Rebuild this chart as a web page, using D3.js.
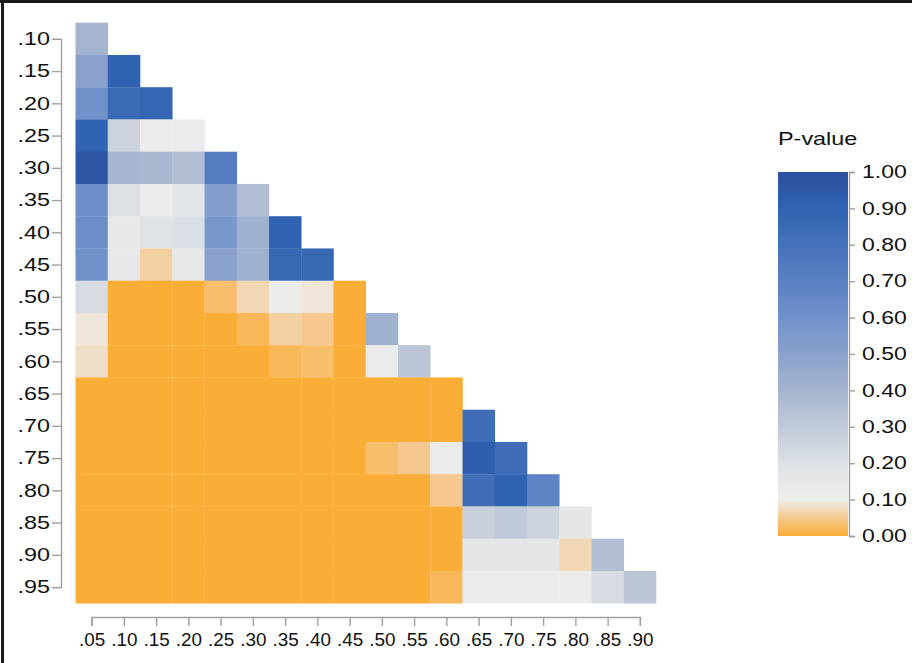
<!DOCTYPE html>
<html>
<head>
<meta charset="utf-8">
<script src="https://cdn.jsdelivr.net/npm/d3@7"></script>
<style>
  body { margin: 0; background: #fff; }
  svg { display: block; font-family: "Liberation Sans", Arial, sans-serif; }
</style>
</head>
<body>
<div id="chart"></div>
<script>
// row / column labels (proportions)
const rowLabels = [".10", ".15", ".20", ".25", ".30", ".35", ".40", ".45", ".50",
                   ".55", ".60", ".65", ".70", ".75", ".80", ".85", ".90", ".95"];
const colLabels = [".05", ".10", ".15", ".20", ".25", ".30", ".35", ".40", ".45",
                   ".50", ".55", ".60", ".65", ".70", ".75", ".80", ".85", ".90"];

// p-values, lower triangle, one array per row
const pValues = [
  [0.40],
  [0.50, 0.90],
  [0.60, 0.85, 0.88],
  [0.90, 0.26, 0.12, 0.12],
  [0.97, 0.40, 0.38, 0.36, 0.72],
  [0.62, 0.20, 0.12, 0.17, 0.52, 0.36],
  [0.62, 0.15, 0.18, 0.21, 0.57, 0.42, 0.90],
  [0.60, 0.15, 0.06, 0.15, 0.50, 0.42, 0.87, 0.87],
  [0.22, 0.00, 0.00, 0.00, 0.03, 0.07, 0.11, 0.09, 0.00],
  [0.09, 0.00, 0.00, 0.00, 0.00, 0.02, 0.06, 0.05, 0.00, 0.42],
  [0.08, 0.00, 0.00, 0.00, 0.00, 0.00, 0.02, 0.03, 0.00, 0.12, 0.32],
  [0.00, 0.00, 0.00, 0.00, 0.00, 0.00, 0.00, 0.00, 0.00, 0.00, 0.00, 0.00],
  [0.00, 0.00, 0.00, 0.00, 0.00, 0.00, 0.00, 0.00, 0.00, 0.00, 0.00, 0.00, 0.83],
  [0.00, 0.00, 0.00, 0.00, 0.00, 0.00, 0.00, 0.00, 0.00, 0.03, 0.05, 0.12, 0.93, 0.83],
  [0.00, 0.00, 0.00, 0.00, 0.00, 0.00, 0.00, 0.00, 0.00, 0.00, 0.00, 0.05, 0.83, 0.90, 0.68],
  [0.00, 0.00, 0.00, 0.00, 0.00, 0.00, 0.00, 0.00, 0.00, 0.00, 0.00, 0.00, 0.27, 0.30, 0.26, 0.16],
  [0.00, 0.00, 0.00, 0.00, 0.00, 0.00, 0.00, 0.00, 0.00, 0.00, 0.00, 0.00, 0.16, 0.16, 0.16, 0.07, 0.36],
  [0.00, 0.00, 0.00, 0.00, 0.00, 0.00, 0.00, 0.00, 0.00, 0.00, 0.00, 0.02, 0.12, 0.12, 0.12, 0.12, 0.22, 0.32]
];

// legend
const legendTicks = [0, 0.1, 0.2, 0.3, 0.4, 0.5, 0.6, 0.7, 0.8, 0.9, 1.0];
const colorStops = [0, 0.05, 0.1, 0.2, 0.3, 0.4, 0.5, 0.6, 0.7, 0.8, 0.9, 1.0];
const colorValues = ["#fbae37", "#f4c88f", "#eeeeec", "#dde1e6", "#c0c9d7", "#a5b5d0",
                     "#8aa1cb", "#7092cb", "#5a80c3", "#4572ba", "#3063b1", "#2a4f9e"];

// layout
const width = 912, height = 663;
const cell = 32.25;
const x0 = 75.5, y0 = 22.7;
const axisColor = "#a0a0a0";
const fontFam = "'Liberation Sans', Arial, sans-serif";

const svg = d3.select("#chart").append("svg")
  .attr("width", width)
  .attr("height", height);

// frame (top and left edges only)
svg.append("line").attr("x1", 0).attr("x2", width).attr("y1", 1.5).attr("y2", 1.5)
  .attr("stroke", "#1a1a1a").attr("stroke-width", 3);
svg.append("line").attr("x1", 2.5).attr("x2", 2.5).attr("y1", 0).attr("y2", height)
  .attr("stroke", "#1a1a1a").attr("stroke-width", 3);

const colorScale = d3.scaleLinear()
  .domain(colorStops)
  .range(colorValues)
  .interpolate(d3.interpolateRgb)
  .clamp(true);

// point scales at cell centres
const xScale = d3.scalePoint()
  .domain(colLabels)
  .range([x0 + cell / 2, x0 + cell * (colLabels.length - 0.5)]);
const yScale = d3.scalePoint()
  .domain(rowLabels)
  .range([y0 + cell / 2, y0 + cell * (rowLabels.length - 0.5)]);

// flatten cells
const cells = [];
pValues.forEach((row, i) => {
  row.forEach((p, j) => cells.push({ r: rowLabels[i], c: colLabels[j], p: p }));
});

svg.append("g").attr("class", "cells")
  .selectAll("rect")
  .data(cells)
  .join("rect")
  .attr("x", d => xScale(d.c) - cell / 2)
  .attr("y", d => yScale(d.r) - cell / 2)
  .attr("width", cell + 0.3)
  .attr("height", cell + 0.3)
  .attr("fill", d => colorScale(d.p));

// tick text is a little wider than plain Arial in the picture
function styleAxis(g, sx) {
  g.selectAll("path, line").attr("stroke", axisColor).attr("stroke-width", 1.4);
  g.selectAll("text")
    .attr("fill", "#111")
    .style("font-size", "18px")
    .style("font-family", fontFam)
    .each(function() {
      const t = d3.select(this);
      const tx = +t.attr("x") || 0;
      t.attr("x", 0).attr("transform", `translate(${tx},0) scale(${sx},1)`);
    });
}

const yAxis = svg.append("g")
  .attr("transform", "translate(61,0)")
  .call(d3.axisLeft(yScale).tickSize(9).tickPadding(2));
styleAxis(yAxis, 1.3);

const xAxis = svg.append("g")
  .attr("transform", "translate(0,617)")
  .call(d3.axisBottom(xScale).tickSize(9).tickPadding(7));
styleAxis(xAxis, 1.05);

// legend
const barX = 778, barW = 70, barTop = 172, barBottom = 536;
const legScale = d3.scaleLinear().domain([0, 1]).range([barBottom, barTop]);

const defs = svg.append("defs");
const grad = defs.append("linearGradient")
  .attr("id", "pgrad")
  .attr("x1", 0).attr("x2", 0).attr("y1", 1).attr("y2", 0);
grad.selectAll("stop")
  .data(colorStops)
  .join("stop")
  .attr("offset", d => d)
  .attr("stop-color", (d, i) => colorValues[i]);

svg.append("rect")
  .attr("x", barX)
  .attr("y", barTop)
  .attr("width", barW)
  .attr("height", barBottom - barTop)
  .attr("fill", "url(#pgrad)");

const legAxis = svg.append("g")
  .attr("transform", `translate(${barX + barW + 1},0)`)
  .call(d3.axisRight(legScale).tickValues(legendTicks).tickFormat(d3.format(".2f"))
    .tickSize(6).tickPadding(7));
styleAxis(legAxis, 1.28);

svg.append("text")
  .attr("transform", `translate(${barX},145) scale(1.3,1)`)
  .attr("fill", "#111")
  .style("font-size", "18px")
  .style("font-family", fontFam)
  .text("P-value");
</script>
</body>
</html>
